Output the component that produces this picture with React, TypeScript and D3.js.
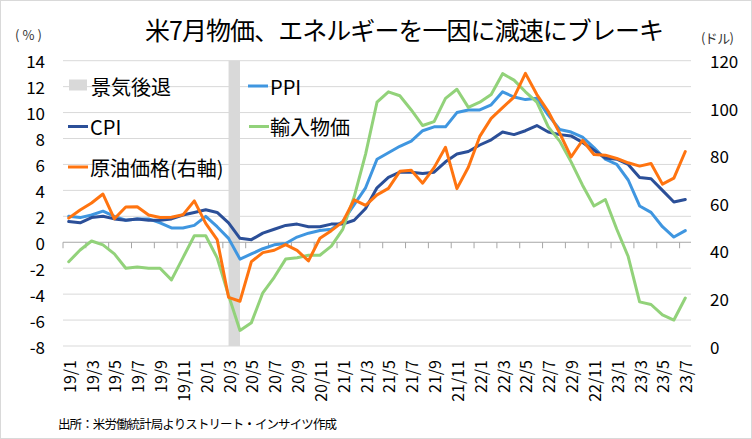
import React from "react";
import * as d3 from "d3";

const months: string[] = [
  "19/1","19/2","19/3","19/4","19/5","19/6","19/7","19/8","19/9","19/10","19/11","19/12",
  "20/1","20/2","20/3","20/4","20/5","20/6","20/7","20/8","20/9","20/10","20/11","20/12",
  "21/1","21/2","21/3","21/4","21/5","21/6","21/7","21/8","21/9","21/10","21/11","21/12",
  "22/1","22/2","22/3","22/4","22/5","22/6","22/7","22/8","22/9","22/10","22/11","22/12",
  "23/1","23/2","23/3","23/4","23/5","23/6","23/7",
];

const cpi: number[] = [
  1.6,1.5,1.9,2.0,1.8,1.7,1.8,1.7,1.7,1.8,2.1,2.3,
  2.5,2.3,1.5,0.3,0.2,0.7,1.0,1.3,1.4,1.2,1.2,1.4,
  1.4,1.7,2.6,4.2,5.0,5.4,5.4,5.3,5.4,6.2,6.8,7.0,
  7.5,7.9,8.5,8.3,8.6,9.0,8.5,8.3,8.2,7.7,7.1,6.5,
  6.4,6.0,5.0,4.9,4.0,3.1,3.3,
];

const ppi: number[] = [
  2.0,1.9,2.1,2.4,2.0,1.7,1.8,1.8,1.5,1.1,1.1,1.3,
  2.0,1.2,0.3,-1.3,-0.9,-0.5,-0.2,-0.1,0.4,0.7,0.9,1.0,
  1.6,2.9,4.2,6.4,6.9,7.4,7.8,8.6,8.9,8.9,10.0,10.2,
  10.2,10.6,11.6,11.2,11.0,11.1,9.8,8.7,8.5,8.1,7.3,6.4,
  6.0,4.8,2.8,2.3,1.2,0.4,0.9,
];

const importPrices: number[] = [
  -1.5,-0.6,0.1,-0.2,-0.9,-2.0,-1.9,-2.0,-2.0,-2.9,-1.2,0.5,
  0.5,-1.2,-4.1,-6.8,-6.2,-3.9,-2.7,-1.3,-1.2,-1.0,-1.0,-0.3,
  1.0,3.5,6.8,10.8,11.6,11.3,10.2,9.0,9.3,11.1,11.8,10.4,
  10.8,11.4,13.0,12.5,11.6,10.8,8.9,7.8,6.2,4.4,2.8,3.3,
  1.0,-1.1,-4.6,-4.8,-5.6,-6.0,-4.3,
];

const oil: number[] = [
  53.79,57.22,60.14,63.91,53.5,58.47,58.58,55.1,54.07,54.18,55.17,61.06,
  51.56,44.76,20.48,18.84,35.49,39.27,40.27,42.61,40.22,35.79,45.34,48.52,
  52.2,61.5,59.16,63.58,66.32,73.47,73.95,68.5,75.03,83.57,66.18,75.21,
  88.15,95.72,100.28,104.69,114.67,105.76,98.62,89.55,79.49,86.53,80.55,80.26,
  78.87,77.05,75.67,76.78,68.09,70.64,81.8,
];

const recessionMonths: string[] = ["20/3", "20/4"];
const leftTicks: number[] = [-8, -6, -4, -2, 0, 2, 4, 6, 8, 10, 12, 14];
const rightTicks: number[] = [0, 20, 40, 60, 80, 100, 120];

const title = "米7月物価、エネルギーを一因に減速にブレーキ";
const source = "出所：米労働統計局よりストリート・インサイツ作成";

const W = 752, H = 439;
const PL = 63, PR = 691, PT = 60.7, PB = 346;
const FONT = "'Noto Sans CJK JP', 'Noto Sans', sans-serif";

const C_CPI = "#2B4F98";
const C_PPI = "#3F96E0";
const C_IMP = "#92D27A";
const C_OIL = "#FF7410";
const C_REC = "#D9D9D9";

export default function App() {
  const x = d3.scaleBand<string>().domain(months).range([PL, PR]).padding(0);
  const bw = x.bandwidth();
  const cx = (m: string) => (x(m) as number) + bw / 2;
  const yL = d3.scaleLinear().domain([-8, 14]).range([PB, PT]);
  const yR = d3.scaleLinear().domain([0, 120]).range([PB, PT]);

  const lineL = d3.line<number>().x((_, i) => cx(months[i])).y((d) => yL(d));
  const lineR = d3.line<number>().x((_, i) => cx(months[i])).y((d) => yR(d));

  const recX0 = cx(recessionMonths[0]);
  const recX1 = cx(recessionMonths[recessionMonths.length - 1]);

  const labelIdx = months.map((_, i) => i).filter((i) => i % 2 === 0);

  const series = [
    { name: "PPI", data: ppi, color: C_PPI, line: lineL },
    { name: "CPI", data: cpi, color: C_CPI, line: lineL },
    { name: "輸入物価", data: importPrices, color: C_IMP, line: lineL },
    { name: "原油価格(右軸)", data: oil, color: C_OIL, line: lineR },
  ];

  return (
    <svg
      width={W}
      height={H}
      style={{ position: "fixed", left: 0, top: 0, background: "#fff" }}
      fontFamily={FONT}
    >
      <rect x={0.5} y={0.5} width={W - 1} height={H - 1} fill="#fff" stroke="#D9D9D9" />

      {/* title */}
      <text x={145} y={40} fontSize={25} fill="#000" textLength={519} lengthAdjust="spacing">
        {title}
      </text>

      {/* unit labels */}
      <text x={15} y={34} fontSize={13} fill="#333" dominantBaseline="central" textLength={27} lengthAdjust="spacing">
        (%)
      </text>
      <text x={701} y={37} fontSize={13} fill="#333" dominantBaseline="central" textLength={33} lengthAdjust="spacing">
        (ドル)
      </text>

      {/* gridlines */}
      {leftTicks.filter((t) => t !== 0).map((t) => (
        <line key={t} x1={PL} x2={PR} y1={yL(t)} y2={yL(t)} stroke="#D9D9D9" strokeWidth={1} />
      ))}

      {/* recession band */}
      <rect x={recX0} y={PT} width={recX1 - recX0} height={PB - PT} fill={C_REC} />

      {/* zero axis with ticks */}
      <line x1={PL} x2={PR} y1={yL(0)} y2={yL(0)} stroke="#A6A6A6" strokeWidth={1} />
      {labelIdx.map((i) => {
        const tx = x(months[i]) as number;
        return <line key={i} x1={tx} x2={tx} y1={yL(0)} y2={yL(0) + 6} stroke="#A6A6A6" strokeWidth={1} />;
      })}

      {/* left axis labels */}
      {leftTicks.map((t) => (
        <text key={t} x={45} y={yL(t)} fontSize={17} textAnchor="end" dominantBaseline="central" fill="#000">
          {t}
        </text>
      ))}
      {/* right axis labels */}
      {rightTicks.map((t) => (
        <text key={t} x={710} y={yR(t)} fontSize={17} textAnchor="start" dominantBaseline="central" fill="#000">
          {t}
        </text>
      ))}

      {/* x labels */}
      {labelIdx.map((i) => {
        const px = cx(months[i]);
        return (
          <text
            key={i}
            transform={`translate(${px},${360}) rotate(-90)`}
            fontSize={16}
            textAnchor="end"
            dominantBaseline="central"
            fill="#000"
          >
            {months[i]}
          </text>
        );
      })}

      {/* series */}
      {series.map((s) => (
        <path
          key={s.name}
          d={s.line(s.data) as string}
          fill="none"
          stroke={s.color}
          strokeWidth={3}
          strokeLinejoin="round"
          strokeLinecap="round"
        />
      ))}

      {/* legend */}
      <g fontSize={20} fill="#000">
        <rect x={69} y={79.5} width={18} height={11} fill={C_REC} />
        <text x={91} y={86} dominantBaseline="central">景気後退</text>

        <line x1={248} x2={268} y1={86} y2={86} stroke={C_PPI} strokeWidth={3} />
        <text x={270} y={86} dominantBaseline="central">PPI</text>

        <line x1={68} x2={88} y1={126.5} y2={126.5} stroke={C_CPI} strokeWidth={3} />
        <text x={90} y={126.5} dominantBaseline="central">CPI</text>

        <line x1={249} x2={269} y1={126.5} y2={126.5} stroke={C_IMP} strokeWidth={3} />
        <text x={270} y={126.5} dominantBaseline="central">輸入物価</text>

        <line x1={68} x2={88} y1={167} y2={167} stroke={C_OIL} strokeWidth={3} />
        <text x={90} y={167} dominantBaseline="central">原油価格(右軸)</text>
      </g>

      {/* source */}
      <text x={58} y={423} fontSize={12.5} dominantBaseline="central" fill="#000" textLength={279} lengthAdjust="spacing">
        {source}
      </text>
    </svg>
  );
}
